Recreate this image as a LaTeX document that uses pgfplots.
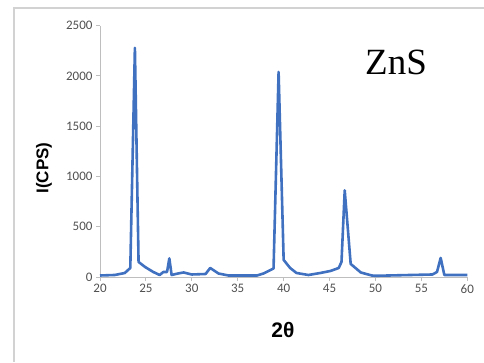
\documentclass[border=0pt]{standalone}
\usepackage{fontspec}
\setmainfont{Carlito}
\newfontfamily\labfont{Liberation Sans}
\newfontfamily\serifb{Liberation Serif}
\usepackage{pgfplots}
\pgfplotsset{compat=1.18}
\definecolor{xrdblue}{RGB}{64,112,192}
\definecolor{framegray}{RGB}{210,210,210}
\definecolor{axgray}{RGB}{190,190,190}
\definecolor{ticktext}{RGB}{80,80,80}
\pgfplotstableread{
x y
20 15
21.6 20
22.7 40
23.3 90
23.8 2280
24.2 150
24.9 100
25.8 50
26.5 20
26.9 50
27.3 50
27.55 185
27.8 20
28.5 35
29.1 45
30.0 25
31.5 30
32.0 90
32.9 35
34.0 15
35.8 15
37.1 15
37.8 35
38.9 85
39.45 2040
40.0 170
40.7 90
41.4 40
42.7 20
44.0 40
45.1 60
46.0 90
46.3 150
46.65 862
47.3 130
48.4 45
49.6 15
50.0 12
56.2 25
56.7 50
57.1 190
57.5 20
59.8 20
60 20
}\xrd
\begin{document}
\begin{tikzpicture}
\useasboundingbox (0,0) rectangle (484pt,362pt);
\draw[framegray, line width=1.8pt] (14pt,0pt) -- (14pt,354pt) -- (484pt,354pt);
\begin{axis}[
  at={(100pt,85pt)}, anchor=south west,
  scale only axis, width=367.3pt, height=251.3pt,
  xmin=20, xmax=60, ymin=0, ymax=2500,
  axis lines=left, axis line style={-, axgray, line width=1pt},
  xtick={20,25,...,60}, ytick={0,500,...,2500},
  tick align=outside, major tick length=4pt,
  tick style={axgray, line width=1pt},
  tick label style={font=\fontsize{13}{15}\selectfont, text=ticktext},
  /pgf/number format/assume math mode=true,
  /pgf/number format/1000 sep={},
  clip=false,
]
\addplot[xrdblue, line width=2.6pt, line join=round] table[x=x,y=y] {\xrd};
\end{axis}
\node[rotate=90, font=\labfont\bfseries\fontsize{17}{20}\selectfont] at (44pt,194pt) {I(CPS)};
\node[font=\labfont\bfseries\fontsize{21}{24}\selectfont] at (283pt,32pt) {2θ};
\node[anchor=base west, inner sep=0pt, font=\serifb\fontsize{37}{40}\selectfont] at (365pt,287pt) {ZnS};
\end{tikzpicture}
\end{document}
